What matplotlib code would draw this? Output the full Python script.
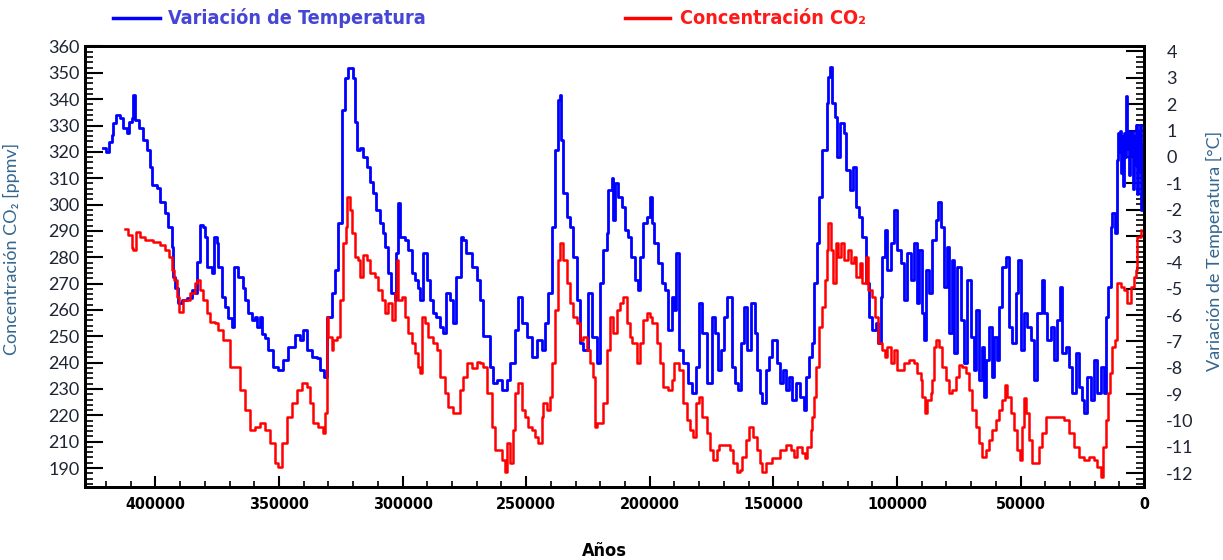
import numpy as np
import matplotlib
matplotlib.use('Agg')
import matplotlib.pyplot as plt
from matplotlib.ticker import MultipleLocator
from matplotlib.lines import Line2D

# Vostok-style record, ages in thousands of years before present
temp_age_kyr = [
    421.3, 420.0, 418.8, 417.7, 417.1, 415.9, 414.3, 413.1, 411.6, 410.7, 409.6, 408.9, 408.4, 407.6, 406.6,
    405.0, 403.5, 402.2, 401.5, 399.5, 398.1, 396.1, 394.9, 393.4, 393.0, 392.1, 390.9, 389.4, 387.3, 385.3,
    384.0, 383.3, 382.0, 380.9, 380.0, 379.3, 377.2, 376.3, 375.2, 374.6, 373.2, 371.9, 370.5, 369.2, 368.2,
    366.5, 364.7, 363.8, 362.4, 361.1, 359.7, 358.9, 357.7, 357.0, 355.7, 354.5, 352.5, 350.4, 348.4, 346.4,
    343.6, 341.5, 340.3, 338.7, 336.7, 334.7, 333.5, 331.8, 330.6, 328.6, 327.4, 326.2, 324.7, 323.4, 322.2,
    320.7, 320.1, 319.3, 318.6, 317.3, 316.1, 314.6, 313.3, 312.0, 310.6, 309.2, 308.0, 307.2, 306.0, 304.5,
    303.2, 302.5, 301.9, 301.1, 299.1, 297.9, 296.4, 295.1, 293.9, 293.0, 291.8, 290.3, 289.0, 287.8, 286.3,
    285.0, 283.7, 282.3, 280.9, 279.7, 278.2, 276.2, 275.7, 274.2, 272.1, 270.1, 268.8, 267.5, 264.8, 263.5,
    261.9, 259.9, 257.9, 256.7, 254.6, 253.4, 251.8, 249.8, 247.8, 245.8, 243.7, 242.5, 241.3, 239.7, 238.5,
    237.3, 236.5, 236.0, 235.2, 233.6, 232.4, 231.2, 229.6, 228.4, 227.2, 225.1, 223.5, 221.5, 220.3, 219.1,
    217.5, 217.1, 215.4, 215.0, 214.2, 213.0, 211.4, 210.2, 209.0, 207.4, 206.1, 204.9, 204.1, 202.9, 201.3,
    200.1, 198.9, 198.1, 196.8, 195.2, 194.0, 192.8, 191.2, 190.0, 189.2, 188.0, 186.7, 184.7, 183.1, 181.1,
    179.9, 178.7, 177.0, 175.0, 173.8, 172.6, 171.0, 169.8, 168.6, 166.9, 165.7, 164.5, 162.9, 161.7, 160.5,
    158.9, 157.6, 156.8, 155.6, 154.4, 152.8, 151.6, 150.4, 148.7, 147.5, 146.3, 144.7, 143.5, 142.3, 140.7,
    139.4, 137.8, 136.6, 135.4, 134.2, 133.4, 132.2, 131.4, 130.2, 128.5, 127.7, 126.9, 126.1, 124.9, 124.1,
    122.9, 121.3, 120.5, 118.8, 117.6, 116.4, 115.2, 114.0, 112.4, 111.2, 109.9, 108.3, 107.5, 106.3, 105.9,
    104.7, 103.9, 102.3, 101.1, 99.8, 98.2, 97.0, 95.8, 94.2, 93.0, 91.8, 90.9, 89.7, 88.9, 88.1,
    86.9, 85.7, 84.1, 83.3, 82.1, 80.8, 79.6, 78.8, 77.6, 76.8, 75.6, 74.0, 72.8, 71.5, 69.9,
    68.7, 67.9, 66.7, 65.5, 64.7, 63.9, 62.7, 61.4, 60.6, 59.4, 58.6, 57.4, 55.8, 54.6, 53.4,
    51.7, 50.9, 49.7, 48.5, 47.3, 45.7, 44.5, 43.2, 41.2, 40.4, 39.2, 37.6, 36.4, 35.2, 34.0,
    33.1, 31.5, 30.3, 29.1, 27.5, 26.3, 25.1, 24.3, 23.0, 21.4, 20.2, 19.0, 17.4, 16.2, 15.4,
    14.6, 13.3, 12.9, 11.7, 10.9, 10.5, 10.1, 9.7, 9.3, 8.9, 8.5, 8.1, 7.7, 7.3, 6.9,
    6.5, 6.1, 5.7, 5.3, 4.9, 4.5, 4.1, 3.7, 3.3, 2.9, 2.5, 2.1, 1.7, 1.3, 0.9,
    0.5,
]
temp_c = [
    0.33, 0.20, 0.58, 0.83, 1.29, 1.59, 1.48, 1.10, 0.91, 1.34, 1.48, 2.35, 1.40, 1.40, 1.10,
    0.65, 0.27, -0.37, -1.06, -1.18, -1.70, -2.13, -2.65, -3.40, -4.54, -4.97, -5.54, -5.43, -5.35, -5.05,
    -5.16, -3.97, -2.58, -2.65, -3.02, -4.16, -4.41, -3.02, -3.26, -4.16, -5.30, -5.68, -6.11, -6.44, -4.16,
    -4.54, -4.97, -5.43, -5.93, -6.19, -6.06, -6.45, -6.06, -6.70, -6.87, -7.32, -7.97, -8.08, -7.70, -7.21,
    -6.76, -6.95, -6.57, -7.32, -7.59, -7.63, -8.08, -8.35, -6.07, -5.16, -4.29, -2.50, 1.78, 3.00, 3.38,
    3.38, 3.00, 1.34, 0.27, 0.34, 0.01, -0.37, -0.94, -1.37, -2.01, -2.50, -2.88, -3.40, -4.40, -5.16,
    -5.43, -3.64, -1.75, -3.02, -3.15, -3.53, -4.40, -4.67, -4.97, -5.43, -3.64, -4.67, -5.43, -5.92, -6.06,
    -6.44, -6.68, -5.16, -5.43, -6.30, -4.54, -3.02, -3.15, -3.64, -4.16, -4.67, -5.43, -6.79, -7.97, -8.58,
    -8.46, -8.84, -8.46, -7.82, -6.57, -5.31, -6.30, -6.83, -7.59, -6.95, -7.32, -6.30, -5.16, -2.66, 0.27,
    2.16, 2.35, 0.65, -1.37, -2.28, -2.66, -3.80, -5.43, -7.06, -7.32, -5.16, -6.83, -7.82, -4.78, -3.53,
    -2.88, -1.25, -0.80, -2.39, -0.99, -1.52, -1.90, -2.77, -3.04, -3.80, -4.67, -5.05, -3.80, -2.50, -2.28,
    -1.52, -2.50, -3.26, -4.02, -4.78, -5.05, -6.57, -5.31, -5.81, -3.64, -7.32, -7.82, -8.58, -8.96, -7.97,
    -5.54, -6.68, -8.58, -6.07, -6.68, -8.08, -7.32, -6.07, -5.31, -7.97, -8.58, -8.84, -7.06, -5.69, -7.32,
    -5.54, -6.68, -8.08, -8.96, -9.34, -8.08, -7.59, -6.95, -7.82, -8.58, -8.08, -8.84, -8.35, -9.22, -8.58,
    -9.11, -9.60, -8.35, -7.59, -7.06, -4.78, -3.26, -1.52, 0.27, 2.05, 3.04, 3.42, 2.05, 1.52, 0.00,
    1.29, 0.91, -0.49, -1.25, -0.38, -1.90, -2.28, -3.04, -4.78, -6.07, -6.57, -6.30, -7.06, -5.31, -3.80,
    -2.77, -4.29, -3.26, -2.01, -3.53, -4.02, -5.43, -3.64, -4.67, -3.26, -5.54, -3.53, -5.92, -6.95, -4.29,
    -5.16, -3.15, -2.39, -1.71, -2.66, -4.93, -3.42, -6.68, -3.91, -7.44, -4.17, -6.19, -7.82, -4.67, -6.83,
    -8.08, -5.81, -8.46, -7.21, -9.11, -7.70, -6.45, -8.35, -6.83, -7.70, -5.69, -4.17, -3.80, -6.45, -7.06,
    -5.16, -3.91, -7.32, -5.92, -6.45, -6.95, -8.46, -5.92, -4.67, -5.92, -6.95, -6.45, -7.70, -6.19, -4.93,
    -7.44, -7.21, -7.97, -8.96, -7.44, -8.73, -9.22, -9.71, -8.35, -9.22, -7.70, -8.96, -7.97, -8.96, -6.07,
    -4.93, -2.66, -2.13, -2.88, -0.10, 0.90, 0.20, 1.00, -0.60, 0.80, -1.10, 0.90, 0.00, 2.30, 0.30,
    1.00, -0.70, 0.90, 0.10, 1.00, -1.20, 0.80, -0.30, 1.20, -1.40, 1.00, -0.50, 1.20, -2.00, 0.50,
    -0.20,
]

co2_age_kyr = [
    412.3, 411.1, 409.6, 408.9, 407.8, 406.2, 404.2, 401.0, 398.1, 396.1, 394.5, 393.4, 392.5, 391.4, 390.5,
    388.8, 386.0, 384.0, 383.2, 382.0, 380.8, 379.3, 377.9, 375.9, 374.7, 372.7, 369.8, 367.8, 365.8, 363.8,
    361.8, 359.7, 357.7, 355.7, 353.7, 351.7, 350.4, 348.8, 346.8, 344.8, 342.8, 340.7, 338.7, 337.5, 336.3,
    334.3, 332.3, 331.4, 330.6, 330.2, 328.6, 328.2, 326.6, 325.4, 324.2, 323.0, 322.6, 321.3, 320.5, 319.3,
    318.1, 317.3, 316.1, 314.5, 313.3, 311.2, 310.0, 308.4, 307.2, 306.0, 304.4, 303.2, 302.3, 301.9, 300.3,
    299.1, 297.9, 296.3, 295.1, 293.9, 293.0, 292.2, 291.0, 289.8, 287.8, 286.2, 285.0, 282.9, 281.7, 279.7,
    278.1, 276.9, 275.7, 274.1, 272.0, 270.0, 268.8, 267.6, 266.0, 263.9, 262.7, 261.5, 259.9, 258.7, 257.9,
    256.7, 255.5, 254.6, 253.4, 251.8, 250.6, 249.4, 247.8, 246.6, 245.3, 243.7, 243.3, 241.7, 240.5, 239.7,
    238.5, 237.3, 236.5, 235.2, 233.6, 232.4, 231.2, 229.6, 228.4, 227.2, 225.5, 224.3, 223.1, 222.3, 221.5,
    220.3, 219.1, 217.5, 216.2, 215.0, 213.4, 212.2, 211.0, 209.4, 208.2, 207.0, 205.3, 204.1, 202.9, 201.3,
    200.1, 198.9, 197.2, 196.0, 194.8, 192.8, 191.2, 190.0, 188.0, 186.7, 185.1, 183.9, 182.7, 181.1, 179.9,
    178.7, 177.0, 175.8, 174.6, 173.0, 171.8, 169.0, 167.7, 166.5, 164.9, 163.7, 162.5, 160.9, 159.7, 158.4,
    156.8, 155.6, 154.4, 152.8, 150.4, 147.5, 144.7, 142.7, 141.5, 140.3, 138.6, 137.4, 136.2, 134.6, 134.2,
    133.4, 132.6, 131.4, 130.2, 129.3, 128.5, 127.7, 126.5, 125.7, 124.5, 123.7, 122.5, 121.3, 120.0, 118.4,
    117.2, 116.4, 114.8, 114.0, 112.4, 111.6, 109.9, 108.7, 107.5, 105.9, 104.7, 103.9, 102.3, 101.1, 99.8,
    98.2, 97.0, 95.0, 93.0, 91.8, 90.1, 89.7, 88.5, 87.7, 86.1, 85.7, 84.9, 84.1, 82.9, 81.6,
    80.0, 78.8, 77.6, 76.0, 74.8, 73.6, 71.9, 70.7, 69.5, 67.9, 66.7, 65.5, 63.9, 62.7, 61.4,
    59.8, 58.6, 57.4, 56.2, 55.4, 53.8, 52.5, 51.3, 50.1, 49.3, 48.5, 47.7, 46.5, 45.3, 43.7,
    42.4, 41.2, 39.6, 37.2, 34.4, 32.3, 30.3, 28.3, 26.3, 24.3, 22.2, 20.2, 19.0, 17.4, 16.6,
    15.4, 14.6, 13.7, 12.9, 11.7, 10.9, 9.3, 8.1, 6.9, 5.3, 4.0, 3.2, 2.8, 1.2,
]
co2_ppmv = [
    290.9, 288.4, 283.5, 282.7, 289.7, 287.8, 286.5, 285.9, 284.6, 282.7, 280.2, 275.2, 271.4, 265.0, 259.4,
    263.8, 266.4, 270.2, 271.4, 267.6, 263.8, 258.9, 255.6, 255.1, 252.4, 248.6, 238.4, 238.4, 229.7, 222.1,
    214.5, 215.7, 217.2, 214.5, 209.6, 202.0, 200.2, 209.6, 219.5, 224.8, 229.7, 232.3, 230.8, 224.8, 217.2,
    215.7, 213.4, 221.0, 257.3, 249.8, 244.8, 248.6, 249.8, 263.8, 285.4, 291.4, 302.8, 297.9, 289.2, 280.1,
    278.9, 272.5, 280.8, 278.9, 274.0, 272.5, 267.6, 263.8, 258.9, 262.7, 256.2, 266.4, 278.9, 263.8, 264.9,
    257.3, 251.3, 247.5, 243.7, 238.4, 236.1, 257.3, 255.1, 249.8, 247.5, 244.8, 234.6, 228.6, 223.3, 221.0,
    221.0, 229.7, 234.6, 239.9, 238.0, 240.3, 239.9, 238.4, 228.6, 215.7, 207.0, 207.0, 203.2, 198.3, 209.6,
    202.0, 214.5, 228.6, 232.3, 222.1, 219.5, 215.7, 214.5, 211.9, 209.6, 219.5, 224.8, 222.1, 227.0, 239.9,
    260.0, 278.9, 285.4, 278.9, 270.2, 262.7, 257.3, 255.1, 248.6, 249.8, 244.8, 239.9, 234.6, 215.7, 217.2,
    217.2, 224.8, 244.8, 257.3, 251.3, 260.0, 262.7, 264.9, 255.1, 249.8, 247.5, 239.9, 247.5, 256.2, 258.9,
    257.3, 255.1, 247.5, 239.9, 230.8, 229.7, 233.5, 239.9, 237.3, 224.8, 218.3, 214.5, 211.9, 224.8, 227.0,
    219.5, 213.4, 207.0, 203.2, 207.0, 208.9, 208.9, 207.0, 202.0, 198.3, 199.4, 204.3, 210.8, 215.7, 211.9,
    207.0, 202.0, 198.3, 202.0, 203.9, 207.0, 208.9, 207.0, 204.3, 208.1, 205.8, 203.9, 208.1, 214.5, 219.5,
    227.0, 238.4, 253.6, 261.1, 271.4, 282.7, 293.0, 282.7, 270.2, 285.4, 280.1, 285.4, 278.9, 282.7, 277.8,
    280.1, 272.5, 277.8, 270.2, 280.1, 267.6, 264.9, 257.3, 247.5, 244.8, 242.2, 246.0, 239.9, 244.8, 237.3,
    237.3, 239.9, 241.1, 239.9, 236.1, 233.5, 227.0, 221.0, 225.9, 228.6, 233.5, 246.0, 248.6, 246.0, 238.4,
    233.5, 228.6, 229.7, 234.6, 239.2, 238.4, 236.1, 229.7, 222.1, 215.7, 209.6, 204.3, 207.0, 210.8, 214.5,
    218.3, 222.1, 225.9, 231.6, 227.0, 221.0, 214.5, 207.0, 203.2, 215.7, 226.7, 221.0, 210.8, 202.0, 202.0,
    208.1, 213.4, 219.5, 219.5, 219.5, 218.3, 213.4, 208.1, 204.3, 203.2, 204.0, 203.2, 200.5, 196.7, 208.1,
    218.3, 228.6, 236.1, 246.0, 248.6, 270.2, 268.7, 267.6, 262.7, 268.7, 272.5, 275.2, 287.7, 290.3,
]

# tick values and the labels printed on them (the chart prints 190 where 200 sits)
co2_ticks = list(range(200, 361, 10))
co2_labels = ['190'] + [str(v) for v in range(210, 361, 10)]
temp_ticks = list(range(-12, 5))
year_ticks = list(range(0, 400001, 50000))

BLUE = '#0000ff'
RED = '#ff0000'
narrow = dict(family=['DejaVu Sans'], fontstretch='condensed', fontweight='bold')
plain = ['Lato', 'DejaVu Sans']

fig = plt.figure(figsize=(12.23, 5.6), dpi=100)
ax = fig.add_axes([0.0695, 0.1304, 0.866, 0.7866])
ax2 = ax.twinx()

ax2.plot(np.array(temp_age_kyr) * 1000, temp_c, color=BLUE, lw=2.0, drawstyle='steps-post')
ax.plot(np.array(co2_age_kyr) * 1000, co2_ppmv, color=RED, lw=1.8, drawstyle='steps-post')

ax.set_zorder(2)
ax2.set_zorder(1)
ax.patch.set_visible(False)

ax.set_xlim(428500, 0)
ax.set_ylim(192.8, 360.0)
ax2.set_ylim(-12.52, 4.19)

ax.set_xticks(year_ticks)
ax.set_xticklabels([str(v) for v in year_ticks], fontsize=11.5, **narrow)
ax.xaxis.set_minor_locator(MultipleLocator(10000))
ax.tick_params(axis='x', which='major', direction='in', length=8, width=1.5, pad=7, top=False)
ax.tick_params(axis='x', which='minor', direction='in', length=4, width=1.2, top=False)

ax.set_yticks(co2_ticks)
ax.set_yticklabels(co2_labels, family=plain, fontsize=13, color='#1d2433')
ax.yaxis.set_minor_locator(MultipleLocator(2))
ax.tick_params(axis='y', which='major', direction='in', length=13, width=1.5, pad=4)
ax.tick_params(axis='y', which='minor', direction='in', length=6, width=1.2)

ax2.set_yticks(temp_ticks)
ax2.set_yticklabels([str(v) for v in temp_ticks], family=plain, fontsize=13, color='#1d2433')
ax2.yaxis.set_minor_locator(MultipleLocator(0.2))
ax2.tick_params(axis='y', which='major', direction='in', length=13, width=1.5, pad=16)
ax2.tick_params(axis='y', which='minor', direction='in', length=6, width=1.2)

for a in (ax, ax2):
    for s in a.spines.values():
        s.set_linewidth(2)
        s.set_color('black')

ax.set_ylabel('Concentración CO₂ [ppmv]', family=plain, fontsize=13, color='#33668f')
ax.yaxis.set_label_coords(-0.061, 0.54)
ax2.set_ylabel('Variación de Temperatura [°C]', family=plain, fontsize=13, color='#33668f')
ax2.yaxis.set_label_coords(1.0586, 0.535)
ax.set_xlabel('Años', fontsize=13, **narrow)
ax.xaxis.set_label_coords(0.49, -0.125)

# legend drawn above the frame
y_leg = 1 - 18 / 560
fig.add_artist(Line2D([113 / 1223, 160 / 1223], [y_leg, y_leg], color=BLUE, lw=2.5))
fig.text(168 / 1223, y_leg, 'Variación de Temperatura', fontsize=14.2, color='#4545d6',
         va='center', ha='left', **narrow)
fig.add_artist(Line2D([625 / 1223, 670 / 1223], [y_leg, y_leg], color=RED, lw=2.5))
fig.text(680 / 1223, y_leg, 'Concentración CO₂', fontsize=14.2, color='#ff1a1a',
         va='center', ha='left', **narrow)

fig.savefig('out.png', dpi=100)
